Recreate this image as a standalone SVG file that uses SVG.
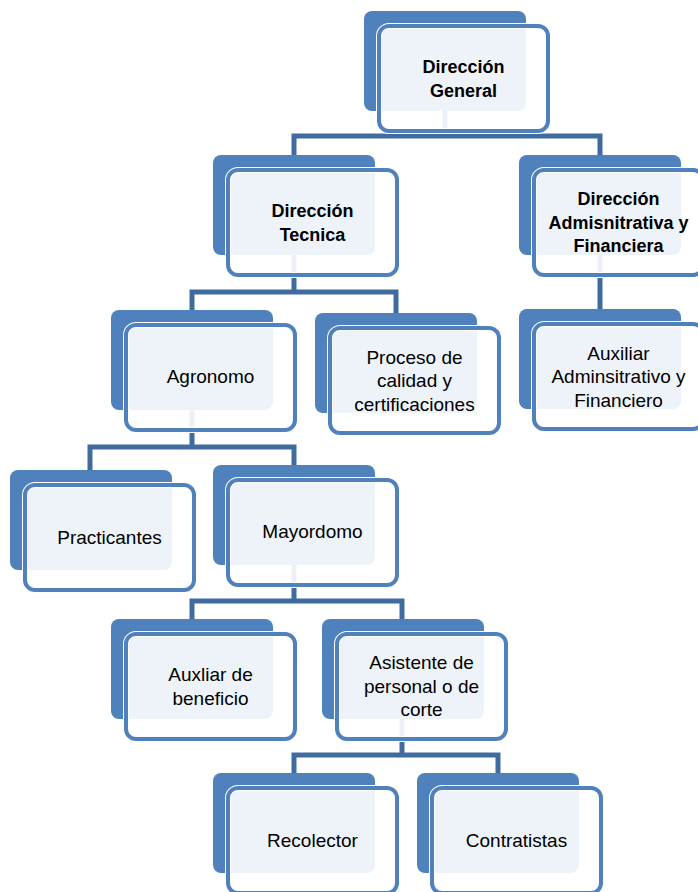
<svg xmlns="http://www.w3.org/2000/svg" width="698" height="892" viewBox="0 0 698 892">
<defs>
<style>
.bk{fill:#4f81bd}
.halo{fill:none;stroke:#ffffff;stroke-width:6}
.fr{fill:#ffffff;fill-opacity:0.9;stroke:#4f81bd;stroke-width:4}
.t{font-family:"Liberation Sans",Arial,sans-serif;font-size:19px;fill:#000;text-anchor:middle}
.b{font-weight:bold;font-size:18px}
.cn{fill:none;stroke:#3f6b9f;stroke-width:5;stroke-linejoin:miter}
</style>
</defs>
<rect width="698" height="892" fill="#ffffff"/>
<g id="connectors">
<path class="cn" d="M445 111 V136 M294 157 V136 H600 V157"/>
<path class="cn" d="M294 255 V292 M192 312 V292 H396 V315"/>
<path class="cn" d="M600 255 V311"/>
<path class="cn" d="M192 410 V447 M90 472 V447 H294 V467"/>
<path class="cn" d="M294 565 V601 M192 621 V601 H402 V621"/>
<path class="cn" d="M402 719 V755 M294 775 V755 H498 V775"/>
</g>
<g id="n-direccion-general">
<rect class="bk" x="364" y="11" width="162" height="100" rx="8"/>
<rect class="halo" x="379" y="26" width="169" height="105" rx="10"/>
<rect class="fr" x="379" y="26" width="169" height="105" rx="10"/>
<text class="t b" x="463.5" y="73">Dirección</text>
<text class="t b" x="463.5" y="97">General</text>
</g>
<g id="n-direccion-tecnica">
<rect class="bk" x="213" y="155" width="162" height="100" rx="8"/>
<rect class="halo" x="228" y="170" width="169" height="105" rx="10"/>
<rect class="fr" x="228" y="170" width="169" height="105" rx="10"/>
<text class="t b" x="312.5" y="217">Dirección</text>
<text class="t b" x="312.5" y="241">Tecnica</text>
</g>
<g id="n-direccion-administrativa">
<rect class="bk" x="519" y="155" width="162" height="100" rx="8"/>
<rect class="halo" x="534" y="170" width="169" height="105" rx="10"/>
<rect class="fr" x="534" y="170" width="169" height="105" rx="10"/>
<text class="t b" x="618.5" y="205">Dirección</text>
<text class="t b" x="618.5" y="228.5">Admisnitrativa y</text>
<text class="t b" x="618.5" y="252">Financiera</text>
</g>
<g id="n-agronomo">
<rect class="bk" x="111" y="310" width="162" height="100" rx="8"/>
<rect class="halo" x="126" y="325" width="169" height="105" rx="10"/>
<rect class="fr" x="126" y="325" width="169" height="105" rx="10"/>
<text class="t" x="210.5" y="383">Agronomo</text>
</g>
<g id="n-proceso">
<rect class="bk" x="315" y="313" width="162" height="100" rx="8"/>
<rect class="halo" x="330" y="328" width="169" height="105" rx="10"/>
<rect class="fr" x="330" y="328" width="169" height="105" rx="10"/>
<text class="t" x="414.5" y="363.5">Proceso de</text>
<text class="t" x="414.5" y="387">calidad y</text>
<text class="t" x="414.5" y="410.5">certificaciones</text>
</g>
<g id="n-auxiliar-administrativo">
<rect class="bk" x="519" y="309" width="162" height="100" rx="8"/>
<rect class="halo" x="534" y="324" width="169" height="105" rx="10"/>
<rect class="fr" x="534" y="324" width="169" height="105" rx="10"/>
<text class="t" x="618.5" y="359.5">Auxiliar</text>
<text class="t" x="618.5" y="383">Adminsitrativo y</text>
<text class="t" x="618.5" y="406.5">Financiero</text>
</g>
<g id="n-practicantes">
<rect class="bk" x="10" y="470" width="162" height="100" rx="8"/>
<rect class="halo" x="25" y="485" width="169" height="105" rx="10"/>
<rect class="fr" x="25" y="485" width="169" height="105" rx="10"/>
<text class="t" x="109.5" y="543.5">Practicantes</text>
</g>
<g id="n-mayordomo">
<rect class="bk" x="213" y="465" width="162" height="100" rx="8"/>
<rect class="halo" x="228" y="480" width="169" height="105" rx="10"/>
<rect class="fr" x="228" y="480" width="169" height="105" rx="10"/>
<text class="t" x="312.5" y="538">Mayordomo</text>
</g>
<g id="n-auxiliar-beneficio">
<rect class="bk" x="111" y="619" width="162" height="100" rx="8"/>
<rect class="halo" x="126" y="634" width="169" height="105" rx="10"/>
<rect class="fr" x="126" y="634" width="169" height="105" rx="10"/>
<text class="t" x="210.5" y="681">Auxliar de</text>
<text class="t" x="210.5" y="705">beneficio</text>
</g>
<g id="n-asistente">
<rect class="bk" x="322" y="619" width="162" height="100" rx="8"/>
<rect class="halo" x="337" y="634" width="169" height="105" rx="10"/>
<rect class="fr" x="337" y="634" width="169" height="105" rx="10"/>
<text class="t" x="421.5" y="669">Asistente de</text>
<text class="t" x="421.5" y="692.5">personal o de</text>
<text class="t" x="421.5" y="716">corte</text>
</g>
<g id="n-recolector">
<rect class="bk" x="213" y="773" width="162" height="100" rx="8"/>
<rect class="halo" x="228" y="788" width="169" height="105" rx="10"/>
<rect class="fr" x="228" y="788" width="169" height="105" rx="10"/>
<text class="t" x="312.5" y="847">Recolector</text>
</g>
<g id="n-contratistas">
<rect class="bk" x="417" y="773" width="162" height="100" rx="8"/>
<rect class="halo" x="432" y="788" width="169" height="105" rx="10"/>
<rect class="fr" x="432" y="788" width="169" height="105" rx="10"/>
<text class="t" x="516.5" y="847">Contratistas</text>
</g>
</svg>
